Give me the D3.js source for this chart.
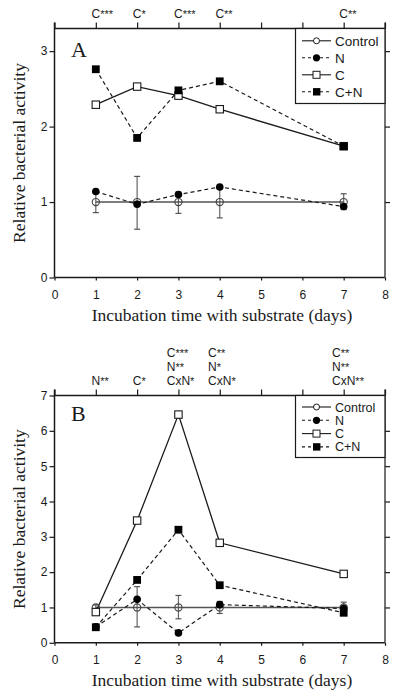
<!DOCTYPE html>
<html><head><meta charset="utf-8">
<script src="https://cdn.jsdelivr.net/npm/d3@7"></script>
<style>body{margin:0;background:#fff}svg{display:block}</style>
</head><body>
<script>
const days = [1, 2, 3, 4, 7];
const xTicks = [0,1,2,3,4,5,6,7,8];
// Panel A
const aControl = [1, 1, 1, 1, 1];
const aControlLo = [0.86, 0.64, 0.85, 0.79, 0.90];
const aControlHi = [1.13, 1.34, 1.13, 1.20, 1.11];
const aN = [1.14, 0.97, 1.10, 1.20, 0.94];
const aC = [2.29, 2.53, 2.41, 2.23, 1.74];
const aCN = [2.76, 1.85, 2.48, 2.60, 1.74];
const aYTicks = [0, 1, 2, 3];
const aNotes = [["C***"], ["C*"], ["C***"], ["C**"], ["C**"]];
// Panel B
const bControl = [1, 1, 1, 1, 1];
const bControlLo = [0.93, 0.45, 0.68, 0.83, 0.85];
const bControlHi = [1.07, 1.59, 1.34, 1.17, 1.15];
const bN = [0.45, 1.23, 0.28, 1.08, 0.97];
const bC = [0.87, 3.46, 6.46, 2.83, 1.95];
const bCN = [0.44, 1.78, 3.20, 1.63, 0.85];
const bYTicks = [0, 1, 2, 3, 4, 5, 6, 7];
const bNotes = [["N**"], ["C*"], ["C***", "N**", "CxN*"], ["C**", "N*", "CxN*"], ["C**", "N**", "CxN**"]];
const legendLabels = ["Control", "N", "C", "C+N"];

const W = 400, H = 696;
const svg = d3.select("body").append("svg").attr("width", W).attr("height", H);
const sans = "'Liberation Sans', Arial, sans-serif";
const serif = "'Liberation Serif', 'Times New Roman', serif";
const ink = "#1a1a1a";

function textWidth(str, size) {
  const t = svg.append("text").attr("font-family", sans).attr("font-size", size).text(str);
  const w = t.node().getComputedTextLength();
  t.remove();
  return w;
}

function panel(cfg) {
  const x = d3.scaleLinear().domain([0, 8]).range([54.5, 385]);
  const y = d3.scaleLinear().domain([0, cfg.ymax]).range([cfg.bottom, cfg.top]);
  const g = svg.append("g");

  // frame lines
  g.append("line").attr("x1", x(0)).attr("x2", x(8)).attr("y1", y(0)).attr("y2", y(0)).attr("stroke", ink).attr("stroke-width", 1.5);
  g.append("line").attr("x1", x(0)).attr("x2", x(8)).attr("y1", y(cfg.ymax)).attr("y2", y(cfg.ymax)).attr("stroke", ink).attr("stroke-width", 1.5);
  g.append("line").attr("x1", x(0)).attr("x2", x(0)).attr("y1", y(0)).attr("y2", y(cfg.ymax) - 6).attr("stroke", ink).attr("stroke-width", 1.5);
  g.append("line").attr("x1", x(8)).attr("x2", x(8)).attr("y1", y(0)).attr("y2", y(cfg.ymax) - 6).attr("stroke", "#444").attr("stroke-width", 1.5);

  // bottom axis
  const bx = g.append("g").attr("transform", `translate(0,${y(0)})`)
    .call(d3.axisBottom(x).tickValues(xTicks).tickFormat(d3.format("d")).tickSize(3).tickPadding(10));
  bx.select(".domain").remove();
  bx.selectAll("line").attr("stroke", ink).attr("stroke-width", 1.2);
  bx.selectAll("text").attr("font-family", sans).attr("font-size", 12).attr("fill", ink);

  // top axis ticks
  const tx = g.append("g").attr("transform", `translate(0,${y(cfg.ymax)})`)
    .call(d3.axisTop(x).tickValues(xTicks).tickFormat("").tickSize(6));
  tx.select(".domain").remove();
  tx.selectAll("line").attr("stroke", ink).attr("stroke-width", 1.2);

  // left axis
  const ly = g.append("g").attr("transform", `translate(${x(0)},0)`)
    .call(d3.axisLeft(y).tickValues(cfg.yticks).tickFormat(d3.format("d")).tickSize(5).tickPadding(2));
  ly.select(".domain").remove();
  ly.selectAll("line").attr("stroke", ink).attr("stroke-width", 1.2);
  ly.selectAll("text").attr("font-family", sans).attr("font-size", 12).attr("fill", ink);

  // right ticks
  const ry = g.append("g").attr("transform", `translate(${x(8)},0)`)
    .call(d3.axisRight(y).tickValues(cfg.yticks.filter(v => v > 0 && v < cfg.ymax)).tickFormat("").tickSize(5));
  ry.select(".domain").remove();
  ry.selectAll("line").attr("stroke", ink).attr("stroke-width", 1.2);

  // titles
  g.append("text").attr("x", 222).attr("y", y(0) + 43).attr("text-anchor", "middle")
    .attr("font-family", serif).attr("font-size", 17.5).attr("fill", ink)
    .text("Incubation time with substrate (days)");
  const yc = (y(0) + y(cfg.ymax)) / 2;
  g.append("text").attr("transform", `translate(25,${yc}) rotate(-90)`).attr("text-anchor", "middle")
    .attr("font-family", serif).attr("font-size", 17.5).attr("fill", ink)
    .text("Relative bacterial activity");
  g.append("text").attr("x", 71).attr("y", y(cfg.ymax) + cfg.letterDy)
    .attr("font-family", serif).attr("font-size", 22).attr("fill", ink).text(cfg.letter);

  // notes: base text centred on the tick, asterisks trailing; multi-line blocks left-aligned
  cfg.notes.forEach((lines, i) => {
    const n = lines.length;
    const bases = lines.map(t => t.replace(/\*+$/, ""));
    const maxW = d3.max(bases, b => textWidth(b, 12));
    const left = x(days[i]) - maxW / 2;
    lines.forEach((t, j) => {
      const base = bases[j];
      const stars = t.slice(base.length);
      const tx = g.append("text").attr("x", left).attr("y", y(cfg.ymax) - 10.5 - (n - 1 - j) * 14)
        .attr("font-family", sans).attr("font-size", 12).attr("fill", ink);
      tx.append("tspan").text(base);
      tx.append("tspan").attr("font-size", 11).attr("dy", -0.5).text(stars);
    });
  });

  const line = d3.line().x((d, i) => x(days[i])).y(d => y(d));
  // error bars
  days.forEach((d, i) => {
    const xx = x(d);
    g.append("line").attr("x1", xx).attr("x2", xx).attr("y1", y(cfg.lo[i])).attr("y2", y(cfg.hi[i])).attr("stroke", "#666").attr("stroke-width", 1.2);
    [cfg.lo[i], cfg.hi[i]].forEach(v => g.append("line").attr("x1", xx - 3).attr("x2", xx + 3).attr("y1", y(v)).attr("y2", y(v)).attr("stroke", "#555").attr("stroke-width", 1.2));
  });
  // lines
  g.append("path").attr("d", line(cfg.control)).attr("fill", "none").attr("stroke", "#555").attr("stroke-width", 1.4);
  g.append("path").attr("d", line(cfg.N)).attr("fill", "none").attr("stroke", ink).attr("stroke-width", 1.2).attr("stroke-dasharray", "4,3");
  g.append("path").attr("d", line(cfg.C)).attr("fill", "none").attr("stroke", ink).attr("stroke-width", 1.3);
  g.append("path").attr("d", line(cfg.CN)).attr("fill", "none").attr("stroke", ink).attr("stroke-width", 1.2).attr("stroke-dasharray", "4,3");

  // markers
  g.selectAll(null).data(cfg.control).enter().append("circle")
    .attr("cx", (d, i) => x(days[i])).attr("cy", d => y(d)).attr("r", 3.6)
    .attr("fill", "none").attr("stroke", "#444").attr("stroke-width", 1.1);
  g.selectAll(null).data(cfg.N).enter().append("circle")
    .attr("cx", (d, i) => x(days[i])).attr("cy", d => y(d)).attr("r", 3.8).attr("fill", "#000");
  g.selectAll(null).data(cfg.C).enter().append("rect")
    .attr("x", (d, i) => x(days[i]) - 3.7).attr("y", d => y(d) - 3.7).attr("width", 7.4).attr("height", 7.4)
    .attr("fill", "#fff").attr("stroke", ink).attr("stroke-width", 1.1);
  g.selectAll(null).data(cfg.CN).enter().append("rect")
    .attr("x", (d, i) => x(days[i]) - 3.9).attr("y", d => y(d) - 3.9).attr("width", 7.8).attr("height", 7.8)
    .attr("fill", "#000");

  // legend
  const L = cfg.legend;
  const top = y(cfg.ymax);
  g.append("rect").attr("x", 295.5).attr("y", top).attr("width", x(8) - 295.5).attr("height", L.h)
    .attr("fill", "#fff").attr("stroke", ink).attr("stroke-width", 1.2);
  legendLabels.forEach((lab, k) => {
    const yy = top + L.y0 + k * L.dy;
    const dashed = k % 2 === 1;
    g.append("line").attr("x1", 302).attr("x2", 331).attr("y1", yy).attr("y2", yy)
      .attr("stroke", ink).attr("stroke-width", 1.1).attr("stroke-dasharray", dashed ? "3,3" : null);
    if (k === 0) g.append("circle").attr("cx", 316.5).attr("cy", yy).attr("r", 3).attr("fill", "#fff").attr("stroke", ink).attr("stroke-width", 1);
    if (k === 1) g.append("circle").attr("cx", 316.5).attr("cy", yy).attr("r", 3.6).attr("fill", "#000");
    if (k === 2) g.append("rect").attr("x", 313).attr("y", yy - 3.5).attr("width", 7).attr("height", 7).attr("fill", "#fff").attr("stroke", ink).attr("stroke-width", 1);
    if (k === 3) g.append("rect").attr("x", 313).attr("y", yy - 3.7).attr("width", 7.4).attr("height", 7.4).attr("fill", "#000");
    g.append("text").attr("x", 335).attr("y", yy).attr("dy", "0.36em")
      .attr("font-family", sans).attr("font-size", L.fs).attr("fill", ink).text(lab);
  });
}

panel({ ymax: 3.3, top: 28.5, bottom: 277.5, yticks: aYTicks, letter: "A", letterDy: 28.5, notes: aNotes,
  control: aControl, lo: aControlLo, hi: aControlHi, N: aN, C: aC, CN: aCN,
  legend: { h: 75, y0: 12.3, dy: 17, fs: 13.5 } });
panel({ ymax: 7, top: 395.5, bottom: 642.8, yticks: bYTicks, letter: "B", letterDy: 25.5, notes: bNotes,
  control: bControl, lo: bControlLo, hi: bControlHi, N: bN, C: bC, CN: bCN,
  legend: { h: 62, y0: 11.5, dy: 13.3, fs: 12.5 } });
</script>
</body></html>
